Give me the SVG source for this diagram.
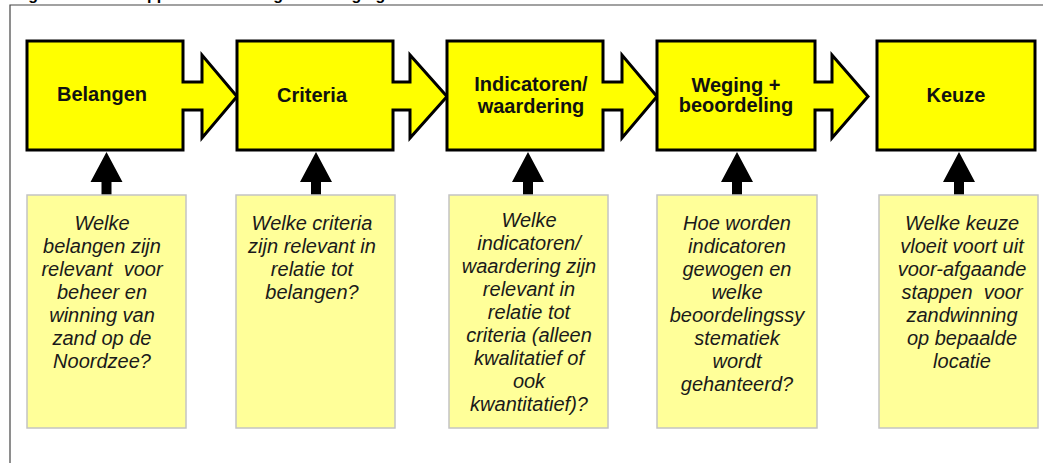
<svg xmlns="http://www.w3.org/2000/svg" width="1043" height="463" viewBox="0 0 1043 463">
<style>
.step{fill:#FFFF00;stroke:#000;stroke-width:3;stroke-linejoin:miter}
.lbl{font-family:"Liberation Sans",Arial,sans-serif;font-weight:bold;font-size:20px;fill:#111;text-anchor:middle}
.note{fill:#FFFF99;stroke:#C4C4C4;stroke-width:1.5}
.q{font-family:"Liberation Sans",Arial,sans-serif;font-style:italic;font-size:20px;fill:#1a1a1a;text-anchor:middle}
.up{fill:#000}
.title{font-family:"Liberation Sans",Arial,sans-serif;font-weight:bold;font-size:16px;fill:#000}
</style>
<rect width="1043" height="463" fill="#fff"/>
<text class="title" x="14" y="-0.5">Figuur 1</text>
<text class="title" x="122" y="-0.5">Stappen van de integrale afweging</text>
<path d="M10,470 V5 H1050" fill="none" stroke="#444" stroke-width="1.2"/>

<g id="connectors">
<polygon class="up" points="106.5,152 122.5,182 111.5,182 111.5,195 101.5,195 101.5,182 90.5,182"/>
<polygon class="up" points="316,152 332,182 321,182 321,195 311,195 311,182 300,182"/>
<polygon class="up" points="528,152 544,182 533,182 533,195 523,195 523,182 512,182"/>
<polygon class="up" points="737,152 753,182 742,182 742,195 732,195 732,182 721,182"/>
<polygon class="up" points="959,152 975,182 964,182 964,195 954,195 954,182 943,182"/>
</g>

<g id="belangen">
<polygon class="step" points="27,41 183,41 183,82 202,82 202,55 237,96.5 202,138 202,110 183,110 183,150 27,150"/>
<text class="lbl" x="102" y="101">Belangen</text>
</g>
<g id="criteria">
<polygon class="step" points="237,41 393,41 393,82 410,82 410,55 447,96.5 410,138 410,110 393,110 393,150 237,150"/>
<text class="lbl" x="312" y="101.5">Criteria</text>
</g>
<g id="indicatoren">
<polygon class="step" points="447,41 603,41 603,82 622,82 622,55 657,96.5 622,138 622,110 603,110 603,150 447,150"/>
<text class="lbl" x="531" y="91">Indicatoren/</text>
<text class="lbl" x="531" y="112.5">waardering</text>
</g>
<g id="weging">
<polygon class="step" points="657,41 815,41 815,82 832,82 832,55 868,96.5 832,138 832,110 815,110 815,150 657,150"/>
<text class="lbl" x="736" y="91.5">Weging +</text>
<text class="lbl" x="736" y="112">beoordeling</text>
</g>
<g id="keuze">
<rect class="step" x="877" y="41" width="158" height="109"/>
<text class="lbl" x="956" y="101.5">Keuze</text>
</g>

<g id="q1">
<rect class="note" x="27" y="195" width="159" height="233"/>
<text class="q" x="102" y="230">Welke</text>
<text class="q" x="102" y="253">belangen zijn</text>
<text class="q" x="102" y="276" xml:space="preserve">relevant  voor</text>
<text class="q" x="102" y="299">beheer en</text>
<text class="q" x="102" y="322">winning van</text>
<text class="q" x="102" y="345">zand op de</text>
<text class="q" x="102" y="368">Noordzee?</text>
</g>
<g id="q2">
<rect class="note" x="236" y="195" width="159" height="233"/>
<text class="q" x="312" y="230">Welke criteria</text>
<text class="q" x="312" y="253">zijn relevant in</text>
<text class="q" x="312" y="276">relatie tot</text>
<text class="q" x="312" y="299">belangen?</text>
</g>
<g id="q3">
<rect class="note" x="449" y="195" width="159" height="233"/>
<text class="q" x="529" y="227">Welke</text>
<text class="q" x="529" y="250">indicatoren/</text>
<text class="q" x="529" y="273">waardering zijn</text>
<text class="q" x="529" y="296">relevant in</text>
<text class="q" x="529" y="319">relatie tot</text>
<text class="q" x="529" y="342">criteria (alleen</text>
<text class="q" x="529" y="365">kwalitatief of</text>
<text class="q" x="529" y="388">ook</text>
<text class="q" x="529" y="411">kwantitatief)?</text>
</g>
<g id="q4">
<rect class="note" x="657" y="195" width="160" height="233"/>
<text class="q" x="737" y="230">Hoe worden</text>
<text class="q" x="737" y="253">indicatoren</text>
<text class="q" x="737" y="276">gewogen en</text>
<text class="q" x="737" y="299">welke</text>
<text class="q" x="737" y="322">beoordelingssy</text>
<text class="q" x="737" y="345">stematiek</text>
<text class="q" x="737" y="368">wordt</text>
<text class="q" x="737" y="391">gehanteerd?</text>
</g>
<g id="q5">
<rect class="note" x="879" y="195" width="159" height="233"/>
<text class="q" x="962" y="230">Welke keuze</text>
<text class="q" x="962" y="253">vloeit voort uit</text>
<text class="q" x="962" y="276">voor-afgaande</text>
<text class="q" x="962" y="299" xml:space="preserve">stappen  voor</text>
<text class="q" x="962" y="322">zandwinning</text>
<text class="q" x="962" y="345">op bepaalde</text>
<text class="q" x="962" y="368">locatie</text>
</g>
</svg>
